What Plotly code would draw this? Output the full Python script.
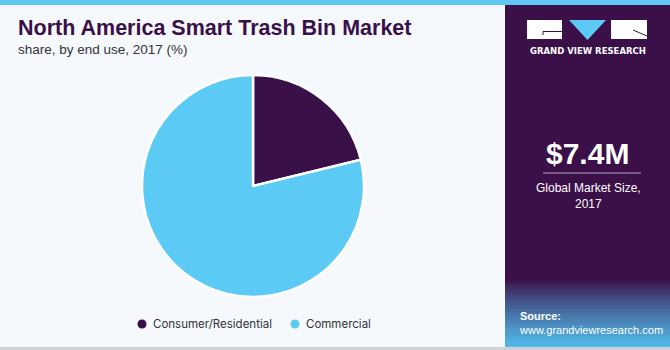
import plotly.graph_objects as go

categories = ["Consumer/Residential", "Commercial"]
shares = [21.2, 78.8]
colors = ["#3a1049", "#5bcaf5"]

title = "North America Smart Trash Bin Market"
subtitle = "share, by end use, 2017 (%)"
market_value = "$7.4M"
market_label = "Global Market Size,<br>2017"

W, H = 670, 350
def px(x): return x / W
def py(y): return 1 - y / H

fig = go.Figure()
fig.add_trace(go.Pie(
    labels=categories, values=shares, sort=False, direction="clockwise",
    rotation=0, marker=dict(colors=colors, line=dict(color="white", width=2.5)),
    textinfo="none", hoverinfo="label+percent", showlegend=False,
    domain=dict(x=[px(142), px(364)], y=[py(297), py(75)]),
))

shapes = []
# top bar
shapes.append(dict(type="rect", xref="paper", yref="paper", x0=0, x1=1, y0=py(5), y1=1,
                   fillcolor="#5ec8f2", line=dict(width=0), layer="below"))
# right panel
shapes.append(dict(type="rect", xref="paper", yref="paper", x0=px(505), x1=1, y0=py(347), y1=py(5),
                   fillcolor="#3b1049", line=dict(width=0), layer="below"))
# gradient at bottom of panel
n = 24
top, bot = 281, 347
c0 = (59, 16, 73)
c1 = (82, 190, 238)
for i in range(n):
    t = (i + 0.5) / n
    t2 = t ** 0.8
    r = int(c0[0] + (c1[0] - c0[0]) * t2)
    g = int(c0[1] + (c1[1] - c0[1]) * t2)
    b = int(c0[2] + (c1[2] - c0[2]) * t2)
    y0 = top + (bot - top) * i / n
    y1 = top + (bot - top) * (i + 1) / n
    shapes.append(dict(type="rect", xref="paper", yref="paper", x0=px(505), x1=1,
                       y0=py(y1 + 0.5), y1=py(y0), fillcolor=f"rgb({r},{g},{b})",
                       line=dict(width=0), layer="below"))
# bottom gray line
shapes.append(dict(type="rect", xref="paper", yref="paper", x0=0, x1=1, y0=0, y1=py(347),
                   fillcolor="#cfd3d6", line=dict(width=0), layer="below"))
# logo
shapes.append(dict(type="rect", xref="paper", yref="paper", x0=px(527), x1=px(562), y0=py(39), y1=py(20),
                   fillcolor="white", line=dict(width=0)))
shapes.append(dict(type="path", xref="paper", yref="paper",
                   path=f"M {px(569)},{py(20)} L {px(606)},{py(20)} L {px(587.5)},{py(40)} Z",
                   fillcolor="#5bcaf5", line=dict(width=0)))
shapes.append(dict(type="rect", xref="paper", yref="paper", x0=px(611), x1=px(647), y0=py(39), y1=py(20),
                   fillcolor="white", line=dict(width=0)))
shapes.append(dict(type="line", xref="paper", yref="paper", x0=px(543), x1=px(562), y0=py(31.5), y1=py(31.5),
                   line=dict(color="#3b1049", width=1)))
shapes.append(dict(type="line", xref="paper", yref="paper", x0=px(543), x1=px(543), y0=py(31.5), y1=py(35),
                   line=dict(color="#3b1049", width=1)))
shapes.append(dict(type="line", xref="paper", yref="paper", x0=px(633), x1=px(647), y0=py(30), y1=py(36),
                   line=dict(color="#3b1049", width=1)))
# divider line under value
shapes.append(dict(type="line", xref="paper", yref="paper", x0=px(543), x1=px(641), y0=py(173), y1=py(173),
                   line=dict(color="#b9a9c4", width=1)))

ann = []
ann.append(dict(x=px(16), y=py(28), xref="paper", yref="paper", text=f"<b>{title}</b>", showarrow=False,
                xanchor="left", yanchor="middle",
                font=dict(family="Liberation Sans, Arial", size=21.5, color="#3a1049")))
ann.append(dict(x=px(16), y=py(50), xref="paper", yref="paper", text=subtitle, showarrow=False,
                xanchor="left", yanchor="middle",
                font=dict(family="Liberation Sans, Arial", size=13.5, color="#333333")))
ann.append(dict(x=px(587.5), y=py(51), xref="paper", yref="paper", text="<b>GRAND VIEW RESEARCH</b>",
                showarrow=False, xanchor="center", yanchor="middle",
                font=dict(family="DejaVu Sans, Arial", size=8.5, color="white")))
ann.append(dict(x=px(587), y=py(154), xref="paper", yref="paper", text=f"<b>{market_value}</b>",
                showarrow=False, xanchor="center", yanchor="middle",
                font=dict(family="Liberation Sans, Arial", size=30, color="white")))
ann.append(dict(x=px(588), y=py(196), xref="paper", yref="paper", text=market_label,
                showarrow=False, xanchor="center", yanchor="middle",
                font=dict(family="Liberation Sans, Arial", size=12, color="white")))
ann.append(dict(x=px(517), y=py(323), xref="paper", yref="paper",
                text="<b>Source:</b><br>www.grandviewresearch.com",
                showarrow=False, xanchor="left", yanchor="middle", align="left",
                font=dict(family="Liberation Sans, Arial", size=11, color="white")))

# legend (circles + labels) built from categories
legend_x = [142, 295]
for c, col, lx in zip(categories, colors, legend_x):
    shapes.append(dict(type="circle", xref="paper", yref="paper",
                       x0=px(lx - 4.5), x1=px(lx + 4.5), y0=py(328.5), y1=py(319.5),
                       fillcolor=col, line=dict(width=0)))
    ann.append(dict(x=px(lx + 9), y=py(324), xref="paper", yref="paper", text=c, showarrow=False,
                    xanchor="left", yanchor="middle",
                    font=dict(family="Inter, Arial", size=11.5, color="#333333")))

fig.update_layout(
    width=W, height=H, margin=dict(l=0, r=0, t=0, b=0),
    paper_bgcolor="#f5f9fd", plot_bgcolor="rgba(0,0,0,0)",
    shapes=shapes, annotations=ann, showlegend=False,
)

fig.write_html("out.html")
